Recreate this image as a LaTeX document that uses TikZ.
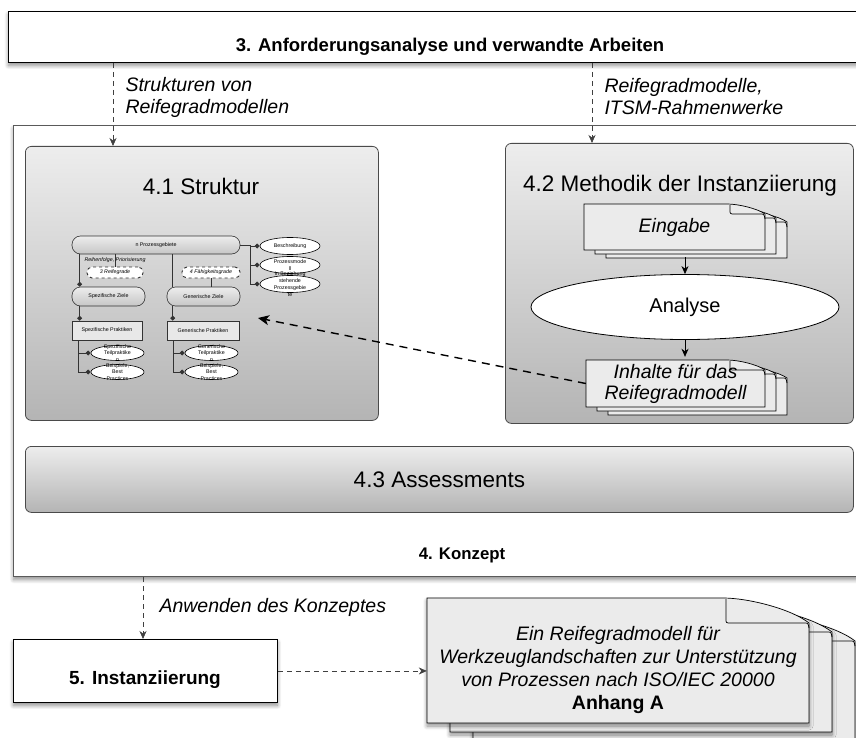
\documentclass[tikz,border=0pt]{standalone}
\usepackage{fontspec}
\setmainfont{Liberation Sans}
\usetikzlibrary{arrows.meta}
\usetikzlibrary{positioning}
\usetikzlibrary{shapes.geometric}
\usetikzlibrary{shadows.blur}
\definecolor{frameline}{HTML}{5A5A5A}
\definecolor{panelline}{HTML}{4A4A4A}
\definecolor{panelhi}{HTML}{EDEDED}
\definecolor{panello}{HTML}{B4B4B4}
\definecolor{sheet}{HTML}{EBEBEB}

% one sheet with a folded corner: x1 y1 x2 y2 fold-x fold-y
\newcommand{\docpage}[6]{%
  \filldraw[docsheet] (#1,#2) -- ({#3-#5},#2)
    .. controls ({#3-0.7*#5},#2) and ({#3-0.2*#5},{#2+0.45*#6}) .. (#3,{#2+#6})
    -- (#3,#4) -- (#1,#4) -- cycle;
  \draw[docfold] ({#3-#5+3},{#2+1}) -- ({#3-#5+3},{#2+#6-4})
    .. controls ({#3-#5+3},{#2+#6}) .. ({#3-#5+8},{#2+#6}) -- ({#3-5},{#2+#6})
    .. controls ({#3-1},{#2+#6}) .. (#3,{#2+#6+5});
}
% stack of three sheets, offset dx dy
\newcommand{\docstack}[8]{%
  \foreach \k in {2,1,0}{%
    \docpage{#1+\k*#7}{#2+\k*#8}{#3+\k*#7}{#4+\k*#8}{#5}{#6}
  }%
}

\begin{document}
\begin{tikzpicture}[x=1pt, y=-1pt,
    shade box/.style={blur shadow={shadow xshift=0pt, shadow yshift=-3pt,
        shadow blur radius=4pt, shadow blur steps=8, shadow opacity=45}},
    frame/.style={draw=black, line width=0.9pt, fill=white, shade box},
    panel/.style={draw=panelline, line width=0.8pt, rounded corners=6pt,
        top color=panelhi, bottom color=panello, anchor=north west},
    bigtitle/.style={font=\fontsize{18.5}{22}\selectfont\bfseries},
    paneltitle/.style={font=\fontsize{22.5}{26}\selectfont},
    flowlabel/.style={font=\fontsize{19.5}{22}\selectfont\itshape, align=left, anchor=west},
    docsheet/.style={draw=black, line width=0.7pt, fill=sheet},
    docfold/.style={draw=black, line width=0.7pt},
    doctext/.style={font=\fontsize{19.5}{21}\selectfont\itshape, align=center, inner sep=0pt},
    flowdash/.style={draw=black!75, line width=0.7pt, dash pattern=on 5pt off 4pt,
        -{Stealth[length=8pt, width=7pt, inset=2.5pt]}},
    flow/.style={draw=black, line width=0.8pt, -{Stealth[length=8pt, width=7pt, inset=2.5pt]}},
    % mini model inside 4.1
    tinyfont/.style={font=\fontsize{5.3}{6.8}\selectfont},
    stadium/.style={draw=black!80, line width=0.6pt, rounded corners=8.5pt,
        top color=panelhi, bottom color=gray!45, tinyfont},
    grade/.style={draw=black!80, line width=0.9pt, dashed, rounded corners=5pt,
        fill=white, minimum height=11pt, inner sep=0pt, font=\fontsize{5.3}{6}\selectfont\itshape},
    practice/.style={draw=black!80, line width=0.6pt, fill=gray!18,
        minimum height=19pt, inner sep=0pt, tinyfont},
    leaf/.style={ellipse, draw=black, line width=0.6pt, fill=white,
        minimum width=53pt, minimum height=15pt, inner sep=0pt},
    leaftext/.style={tinyfont, align=center},
    link/.style={draw=black!80, line width=0.6pt},
    dia/.style={link, -{Diamond[length=5pt, width=5pt]}}
  ]
  \useasboundingbox (0,0) rectangle (856,738);

  % 3. Anforderungsanalyse
  \node[frame, anchor=north west, minimum width=870pt, minimum height=51pt] (anf) at (8,11) {};
  \node[bigtitle] (anft) at (450,47) {3. Anforderungsanalyse und verwandte Arbeiten};

  % 4. Konzept
  \node[frame, draw=frameline, line width=1.2pt, anchor=north west,
        minimum width=870pt, minimum height=451pt] (konzept) at (13,125) {};
  \node[font=\fontsize{16.8}{19}\selectfont\bfseries] (konzeptt) at (462,555) {4. Konzept};

  \node[panel, minimum width=353pt, minimum height=274pt] (s41) at (25,146) {};
  \node[paneltitle] (t41) at (201,186) {4.1 Struktur};
  \node[panel, minimum width=348pt, minimum height=280pt] (s42) at (505,143) {};
  \node[paneltitle] (t42) at (680,186) {4.2 Methodik der Instanziierung};
  \node[panel, paneltitle, minimum width=828pt, minimum height=66pt] (s43) at (25,446) {4.3 Assessments};

  % 4.1 mini model
  \node[stadium, minimum width=168pt, minimum height=18pt, inner sep=0pt] (pg) at (156,245) {n Prozessgebiete};
  \node[grade, minimum width=56pt] (re3) at (115,272.5) {3 Reifegrade};
  \node[grade, minimum width=58pt] (fg4) at (211,272.5) {4 Fähigkeitsgrade};
  \node[stadium, minimum width=73pt, minimum height=19pt, inner sep=0pt] (sz) at (108.5,296.5) {Spezifische Ziele};
  \node[stadium, minimum width=73pt, minimum height=19pt, inner sep=0pt] (gz) at (203.5,296.5) {Generische Ziele};
  \node[practice, minimum width=70pt] (sp) at (107,330.5) {Spezifische Praktiken};
  \node[practice, minimum width=72pt] (gp) at (203,330.5) {Generische Praktiken};
  \node[leaf, label={[leaftext]center:Spezifische\\Teilpraktike\\n}] (stp) at (117.5,353) {};
  \node[leaf, label={[leaftext]center:Beispiele,\\Best\\Practices}] (sbp) at (117.5,372) {};
  \node[leaf, label={[leaftext]center:Generische\\Teilpraktike\\n}] (gtp) at (211.5,353) {};
  \node[leaf, label={[leaftext]center:Beispiele,\\Best\\Practices}] (gbp) at (211.5,372) {};
  \node[leaf, minimum width=60pt, minimum height=17pt, label={[leaftext]center:Beschreibung}] (besch) at (290,246) {};
  \node[leaf, minimum width=60pt, minimum height=17pt, label={[leaftext]center:Prozessmode\\ll}] (pmod) at (290,265) {};
  \node[leaf, minimum width=60pt, minimum height=17pt,
        label={[leaftext]center:In Beziehung\\stehende\\Prozessgebie\\te}] (bez) at (290,284) {};

  \draw[dia] ([xshift=8pt]pg.south west) -- ([xshift=8pt]sz.north west);
  \draw[link] (re3.north |- pg.south) -- (re3.north)
    node[midway, font=\fontsize{5.3}{6}\selectfont\itshape] (reihe) {Reihenfolge, Priorisierung};
  \draw[link] ([xshift=6pt]gz.north west |- pg.south) -- ([xshift=6pt]gz.north west);
  \draw[link] (fg4.south) -- (fg4.south |- gz.north);
  \draw[dia] ([xshift=8pt]sz.south west) -- ([xshift=8pt]sp.north west);
  \draw[dia] ([xshift=6pt]gz.south west) -- ([xshift=6pt]gp.north west);
  \draw[dia] ([xshift=7pt]sp.south west) |- (stp.west);
  \draw[dia] ([xshift=7pt]sp.south west) |- (sbp.west);
  \draw[dia] ([xshift=7pt]gp.south west) |- (gtp.west);
  \draw[dia] ([xshift=7pt]gp.south west) |- (gbp.west);
  \draw[dia] (pg.east) -- ++(10,0) |- (besch.west);
  \draw[dia] (pg.east) -- ++(10,0) |- (pmod.west);
  \draw[dia] (pg.east) -- ++(10,0) |- (bez.west);

  % 4.2 Methodik
  \docstack{584}{204}{765}{250}{38}{10}{11}{4}
  \node[doctext, minimum width=181pt, minimum height=46pt] (eing) at (674.5,227) {Eingabe};
  \node[ellipse, draw=black, line width=0.8pt, fill=white, minimum width=308pt, minimum height=65pt,
        font=\fontsize{20}{22}\selectfont] (ana) at (685,307) {Analyse};
  \docstack{586}{360}{765}{407}{38}{10}{11}{4}
  \node[doctext, minimum width=179pt, minimum height=47pt] (inh) at (675.5,383.5) {Inhalte für das\\Reifegradmodell};
  \draw[flow] ([yshift=-7pt]ana.north |- eing.south) -- (ana.north);
  \draw[flow] (ana.south) -- ([yshift=3pt]ana.south |- inh.north);
  \coordinate (ziel) at (258,318);
  \draw[draw=black, line width=1.4pt, dash pattern=on 8pt off 6pt,
        -{Stealth[length=11pt, width=10pt, inset=3pt]}] (inh.west) -- (ziel);

  % inputs from 3.
  \draw[flowdash] ([xshift=105pt]anf.south west) -- ([xshift=105pt]anf.south west |- s41.north);
  \draw[flowdash] ([xshift=584pt]anf.south west) -- ([xshift=584pt]anf.south west |- s42.north);
  \node[flowlabel] (lstr) at (122,97) {Strukturen von\\Reifegradmodellen};
  \node[flowlabel] (lrgm) at (601,97) {Reifegradmodelle,\\ITSM-Rahmenwerke};

  % 5. Instanziierung
  \node[frame, anchor=north west, minimum width=264pt, minimum height=63pt] (inst) at (13,639) {};
  \node[font=\fontsize{19}{22}\selectfont\bfseries] (instt) at (145,680) {5. Instanziierung};
  \draw[flowdash] ([xshift=130pt]konzept.south west) -- ([xshift=130pt]konzept.south west |- inst.north);
  \node[flowlabel] (lanw) at (156,607) {Anwenden des Konzeptes};

  % Anhang A
  \begin{scope}[docsheet/.append style={shade box}]
    \docstack{427}{598}{809}{723}{86}{25}{23}{9}
  \end{scope}
  \node[doctext, minimum width=382pt, minimum height=125pt] (anhang) at (618,660.5) {};
  \node[font=\fontsize{19.5}{23}\selectfont\itshape, align=center] (anhangt) at (618,670)
    {Ein Reifegradmodell für\\Werkzeuglandschaften zur Unterstützung\\von Prozessen nach ISO/IEC 20000\\{\upshape\bfseries Anhang A}};
  \draw[flowdash] (inst.east) -- (inst.east -| anhang.west);
\end{tikzpicture}
\end{document}
